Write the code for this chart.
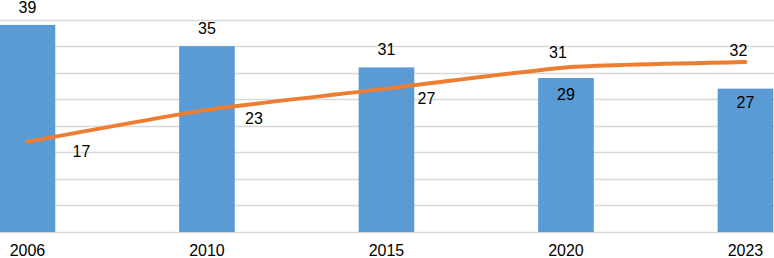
<!DOCTYPE html>
<html>
<head>
<meta charset="utf-8">
<script src="https://cdn.jsdelivr.net/npm/d3@7"></script>
<style>
  html, body { margin: 0; padding: 0; background: #fff; }
  svg { display: block; font-family: "Liberation Sans", Arial, sans-serif; }
</style>
</head>
<body>
<div class="chart"></div>
<script>
const years = ['2006', '2010', '2015', '2020', '2023'];
const barValues = [39, 35, 31, 29, 27];
const lineValues = [17, 23, 27, 31, 32];
const gridTicks = [0, 5, 10, 15, 20, 25, 30, 35, 40];

// hand-placed label offsets (dx, dy from the mark), as in the original
const barLabelOffsets = [[0, -12], [0, -12], [0, -12], [0, 22], [0, 19]];
const lineLabelOffsets = [[54, 15], [47, 14], [40, 15], [-8, -9], [-7, -6]];

const width = 774;
const height = 258;

const svg = d3
  .select('.chart')
  .append('svg')
  .attr('width', width)
  .attr('height', height);

const xScale = d3
  .scaleBand()
  .domain(years)
  .range([-62.3, 835.2])
  .paddingInner(0.69)
  .paddingOuter(0.345);
const yScale = d3
  .scaleLinear()
  .domain([0, 40])
  .range([232, 19.6]);

const cx = d => xScale(d) + xScale.bandwidth() / 2;

// gridlines
svg
  .selectAll('.grid')
  .data(gridTicks)
  .enter()
  .append('line')
  .attr('x1', 0)
  .attr('x2', width)
  .attr('y1', d => Math.round(yScale(d)) + 0.5)
  .attr('y2', d => Math.round(yScale(d)) + 0.5)
  .attr('stroke', '#d9d9d9')
  .attr('stroke-width', 1.3);

// bars
svg
  .selectAll('.bar')
  .data(years)
  .enter()
  .append('rect')
  .attr('x', d => xScale(d))
  .attr('y', (d, i) => yScale(barValues[i]))
  .attr('width', xScale.bandwidth())
  .attr('height', (d, i) => yScale(0) - yScale(barValues[i]))
  .attr('fill', '#5b9bd5');

// line
const line = d3
  .line()
  .x((d, i) => cx(years[i]))
  .y(d => yScale(d))
  .curve(d3.curveCardinal.tension(0.5));

svg
  .append('path')
  .datum(lineValues)
  .attr('d', line)
  .attr('fill', 'none')
  .attr('stroke', '#ed7d31')
  .attr('stroke-width', 4)
  .attr('stroke-linecap', 'round')
  .attr('stroke-linejoin', 'round');

// bar labels
svg
  .selectAll('.bar-label')
  .data(barValues)
  .enter()
  .append('text')
  .attr('x', (d, i) => cx(years[i]) + barLabelOffsets[i][0])
  .attr('y', (d, i) => yScale(d) + barLabelOffsets[i][1])
  .attr('text-anchor', 'middle')
  .style('font-size', '16px')
  .attr('fill', '#000')
  .text(d => d);

// line labels
svg
  .selectAll('.line-label')
  .data(lineValues)
  .enter()
  .append('text')
  .attr('x', (d, i) => cx(years[i]) + lineLabelOffsets[i][0])
  .attr('y', (d, i) => yScale(d) + lineLabelOffsets[i][1])
  .attr('text-anchor', 'middle')
  .style('font-size', '16px')
  .attr('fill', '#000')
  .text(d => d);

// category axis labels
svg
  .selectAll('.year')
  .data(years)
  .enter()
  .append('text')
  .attr('x', d => cx(d))
  .attr('y', 256)
  .attr('text-anchor', 'middle')
  .style('font-size', '16px')
  .attr('fill', '#000')
  .text(d => d);
</script>
</body>
</html>
